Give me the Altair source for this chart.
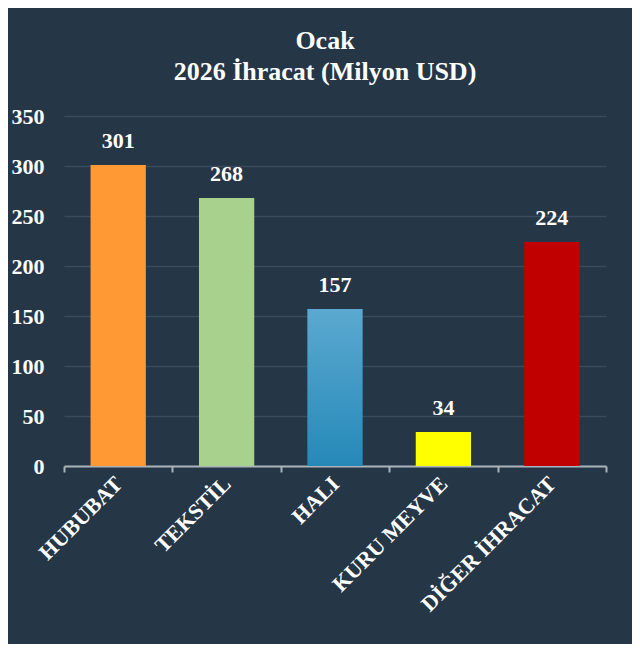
import altair as alt
import pandas as pd

categories = ["HUBUBAT", "TEKSTİL", "HALI", "KURU MEYVE", "DİĞER İHRACAT"]
values = [301, 268, 157, 34, 224]
bar_colors = ["#ff9933", "#a9d18e", "#2e93c2", "#ffff00", "#c00000"]
y_ticks = [0, 50, 100, 150, 200, 250, 300, 350]

df = pd.DataFrame({"cat": categories, "val": values})

BG = "#253646"
FONT = "'Liberation Serif', 'Times New Roman', 'DejaVu Serif', serif"

hali_gradient = {
    "gradient": "linear",
    "x1": 0, "y1": 0, "x2": 0, "y2": 1,
    "stops": [
        {"offset": 0, "color": "#5ba9d0"},
        {"offset": 1, "color": "#2589b8"},
    ],
}

x_enc = alt.X(
    "cat:N",
    sort=categories,
    title=None,
    scale=alt.Scale(paddingInner=0, paddingOuter=0),
    axis=alt.Axis(
        labelAngle=-45,
        labelAlign="right",
        labelBaseline="middle",
        labelFont=FONT,
        labelFontWeight="bold",
        labelFontSize=22,
        labelColor="#ffffff",
        labelPadding=8,
        tickBand="extent",
        ticks=True,
        tickSize=6,
        tickColor="#aab2ba",
        tickWidth=2,
        domainColor="#aab2ba",
        domainWidth=2,
        grid=False,
    ),
)

y_enc = alt.Y(
    "val:Q",
    title=None,
    scale=alt.Scale(domain=[0, 350], nice=False),
    axis=alt.Axis(
        values=y_ticks,
        labelFont=FONT,
        labelFontWeight="bold",
        labelFontSize=22,
        labelColor="#ffffff",
        labelPadding=20,
        ticks=False,
        domain=False,
        grid=True,
        gridColor="#3b4b5d",
        gridWidth=1.5,
    ),
)

bars = alt.Chart(df).mark_bar(width=alt.RelativeBandSize(0.51)).encode(
    x=x_enc,
    y=y_enc,
    color=alt.condition(
        alt.datum.cat == "HALI",
        alt.value(hali_gradient),
        alt.Color("cat:N", sort=categories,
                  scale=alt.Scale(domain=categories, range=bar_colors),
                  legend=None),
    ),
)

labels = alt.Chart(df).mark_text(
    font=FONT, fontWeight="bold", fontSize=22, color="#ffffff",
    baseline="alphabetic", dy=-17,
).encode(
    x=alt.X("cat:N", sort=categories),
    y="val:Q",
    text="val:Q",
)

chart = alt.layer(bars, labels).properties(
    width=542,
    height=350,
    padding={"left": 56, "top": 108, "right": 26, "bottom": 178},
    autosize=alt.AutoSizeParams(type="none"),
    background=BG,
    title=alt.TitleParams(
        text=["Ocak", "2026 İhracat (Milyon USD)"],
        font=FONT,
        fontWeight="bold",
        fontSize=26,
        color="#ffffff",
        lineHeight=31,
        anchor="middle",
        dx=-10,
        offset=20,
    ),
).configure_view(stroke=None)

chart.save("out.html", embed_options={"renderer": "svg", "actions": False})
